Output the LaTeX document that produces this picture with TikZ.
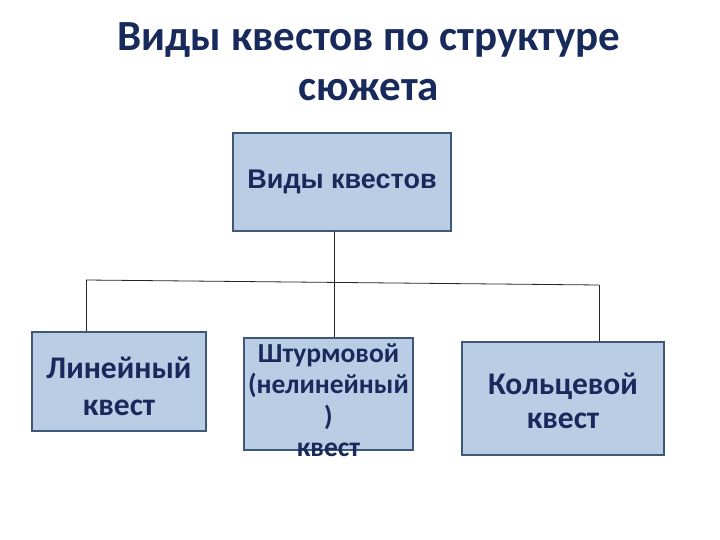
\documentclass[tikz,border=0pt]{standalone}
\usepackage{fontspec}
\setmainfont{Carlito}
\newfontfamily\arialfont{Liberation Sans}
\usetikzlibrary{positioning}
\definecolor{qnavy}{HTML}{182A5C}
\definecolor{qfill}{HTML}{B9CDE5}
\definecolor{qedge}{HTML}{3F5778}

\begin{document}
\begin{tikzpicture}[x=1pt,y=-1pt,
    box/.style={draw=qedge,line width=1.6pt,fill=qfill,align=center,inner sep=0pt,text=qnavy,font=\fontsize{31.5}{34}\selectfont\bfseries},
    boxtext/.style={align=center,inner sep=0pt,text=qnavy,font=\fontsize{27.5}{31.5}\selectfont\bfseries},
    link/.style={draw=black!85,line width=0.8pt}]
  \useasboundingbox (0,0) rectangle (720,540);
  \node[text=qnavy,align=center,font=\fontsize{43}{50}\selectfont\bfseries] (title) at (369,62) {Виды квестов по структуре\\сюжета};
  \node[box,minimum width=218,minimum height=98,font=\arialfont\fontsize{27}{30}\selectfont\bfseries] (vk) at (342,182) {Виды квестов};
  \node[box,minimum width=174,minimum height=99,label={[boxtext,font=\fontsize{31.5}{37}\selectfont\bfseries,yshift=-5]center:Линейный\\квест}] (lin) at (119,381.5) {};
  \node[box,minimum width=169,minimum height=112,label={[boxtext,yshift=-6]center:Штурмовой\\(нелинейный\\)\\квест}] (shturm) at (328.5,394) {};
  \node[box,minimum width=202,minimum height=113,label={[boxtext,font=\fontsize{31.5}{34}\selectfont\bfseries,yshift=-2]center:Кольцевой\\квест}] (kolc) at (563,398.5) {};
  % bus line under the top box
  \coordinate (busl) at (86,280);
  \coordinate (busr) at (599,285);
  \coordinate (busm) at (334,282.5);
  \draw[link] (vk.south -| busm) -- (shturm.north -| busm);
  \draw[link] (busl) -- (busr);
  \draw[link] (busl) -- (busl |- lin.north);
  \draw[link] (busr) -- (busr |- kolc.north);
\end{tikzpicture}
\end{document}
